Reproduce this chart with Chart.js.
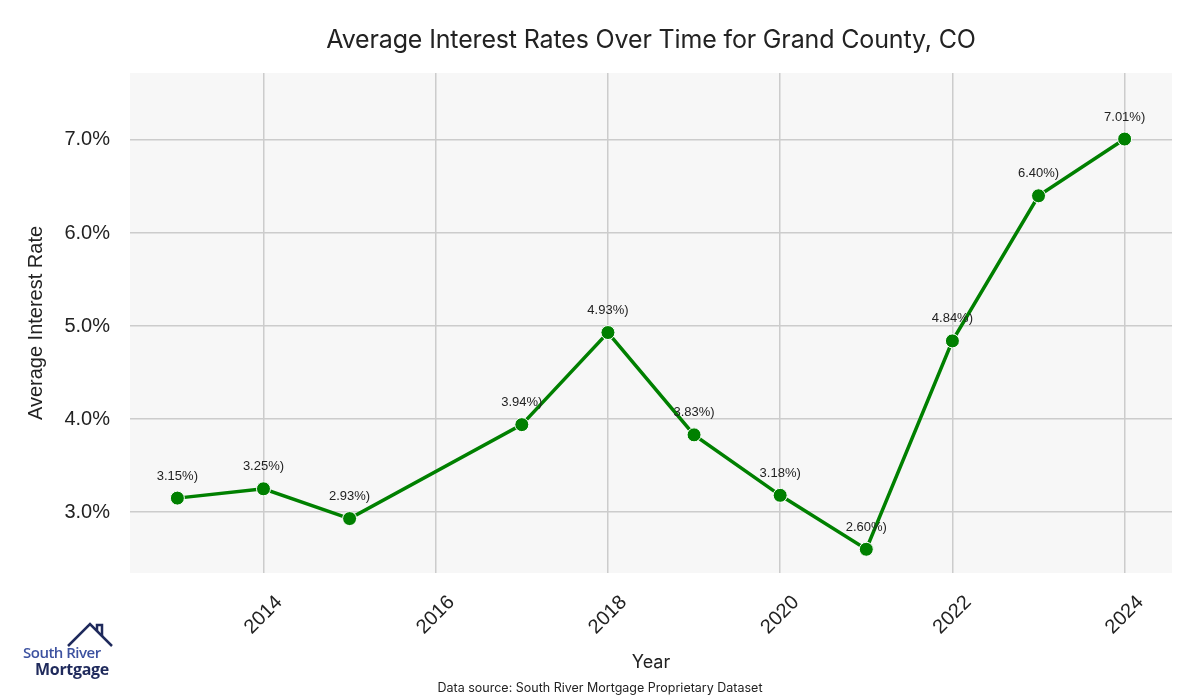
<!DOCTYPE html>
<html>
<head>
<meta charset="utf-8">
<script src="https://cdn.jsdelivr.net/npm/chart.js@4"></script>
<style>
  body { margin: 0; background: #fff; }
  #wrap { position: relative; width: 1200px; height: 700px; }
  #title { position: absolute; top: 24px; left: 130px; width: 1042px; text-align: center;
    font-family: Inter, sans-serif; font-size: 25px; color: #222; letter-spacing: -0.15px; }
  #source { position: absolute; top: 680px; left: 0; width: 1200px; text-align: center;
    font-family: Inter, sans-serif; font-size: 12.5px; color: #222; }
  #logo { position: absolute; left: 22px; top: 620px; width: 100px; height: 60px;
    font-family: "Open Sans", sans-serif; font-weight: 700; }
  #logo .l1 { position: absolute; left: 1px; top: 22px; font-size: 15px; color: #3d52a0; font-weight: 600; letter-spacing: -0.5px; white-space: nowrap; }
  #logo .l2 { position: absolute; left: 13px; top: 38px; font-size: 16px; color: #1f2a5c; letter-spacing: -0.3px; }
  #logo svg { position: absolute; left: 0; top: 0; }
</style>
</head>
<body>
<div id="wrap">
  <canvas id="rateChart" width="1200" height="700"></canvas>
  <div id="title">Average Interest Rates Over Time for Grand County, CO</div>
  <div id="source">Data source: South River Mortgage Proprietary Dataset</div>
  <div id="logo">
    <svg width="100" height="30">
      <polyline points="68,46 90,24 112,46" fill="none" stroke="#1f2a5c" stroke-width="2.5" transform="translate(-22,-20)"/>
      <polyline points="97,31 97,25 102,25 102,36" fill="none" stroke="#1f2a5c" stroke-width="2.5" transform="translate(-22,-20)"/>
    </svg>
    <span class="l1">South River</span>
    <span class="l2">Mortgage</span>
  </div>
</div>
<script>
// Data
const years = [2013, 2014, 2015, 2017, 2018, 2019, 2020, 2021, 2022, 2023, 2024];
const rates = [3.15, 3.25, 2.93, 3.94, 4.93, 3.83, 3.18, 2.60, 4.84, 6.40, 7.01];
const xTicks = [2014, 2016, 2018, 2020, 2022, 2024];
const yTicks = [3, 4, 5, 6, 7];

const chartCanvas = document.getElementById('rateChart');

// Grey plot background, value labels, centred rotated year labels
const plotExtras = {
  id: 'plotExtras',
  beforeDraw(chart) {
    const { ctx, chartArea } = chart;
    ctx.save();
    ctx.fillStyle = '#f7f7f7';
    ctx.fillRect(chartArea.left, chartArea.top, chartArea.width, chartArea.height);
    ctx.restore();
  },
  afterDraw(chart) {
    const { ctx, chartArea } = chart;
    const xScale = chart.scales.x;
    ctx.save();
    ctx.font = '20px "Liberation Sans", Arial, sans-serif';
    ctx.fillStyle = '#222';
    ctx.textAlign = 'center';
    ctx.textBaseline = 'middle';
    xScale.ticks.forEach((t) => {
      const px = xScale.getPixelForValue(t.value);
      ctx.save();
      ctx.translate(px, chartArea.bottom + 42);
      ctx.rotate(-Math.PI / 4);
      ctx.fillText(String(t.value), 0, 0);
      ctx.restore();
    });
    ctx.restore();
  },
  afterDatasetsDraw(chart) {
    const { ctx } = chart;
    const meta = chart.getDatasetMeta(0);
    ctx.save();
    ctx.font = '13px "Liberation Sans", Arial, sans-serif';
    ctx.fillStyle = '#222';
    ctx.textAlign = 'center';
    ctx.textBaseline = 'middle';
    meta.data.forEach((pt, i) => {
      ctx.fillText(rates[i].toFixed(2) + '%)', pt.x, pt.y - 22);
    });
    ctx.restore();
  }
};

new Chart(chartCanvas, {
  type: 'line',
  data: {
    datasets: [{
      data: years.map((y, i) => ({ x: y, y: rates[i] })),
      borderColor: '#008000',
      borderWidth: 3.5,
      backgroundColor: '#008000',
      pointBackgroundColor: '#008000',
      pointBorderColor: '#ffffff',
      pointBorderWidth: 1,
      pointRadius: 7,
      tension: 0
    }]
  },
  options: {
    responsive: false,
    animation: false,
    layout: { padding: { top: 73, right: 28, left: 0, bottom: 0 } },
    plugins: { legend: { display: false }, tooltip: { enabled: false } },
    scales: {
      x: {
        type: 'linear',
        min: 2012.45,
        max: 2024.55,
        afterBuildTicks(scale) { scale.ticks = xTicks.map(v => ({ value: v })); },
        afterFit(scale) { scale.height = 127; },
        border: { display: false },
        grid: { color: '#cccccc', lineWidth: 1.5, drawTicks: false },
        ticks: {
          minRotation: 45, maxRotation: 45, padding: 6,
          color: 'rgba(0,0,0,0)',
          font: { family: '"Liberation Sans", Arial, sans-serif', size: 20 },
          callback: v => String(v)
        },
        title: {
          display: true, text: 'Year', color: '#222',
          font: { family: 'Inter, sans-serif', size: 18 },
          padding: { top: 0, bottom: 27 }
        }
      },
      y: {
        min: 2.345,
        max: 7.72,
        afterBuildTicks(scale) { scale.ticks = yTicks.map(v => ({ value: v })); },
        afterFit(scale) { scale.width = 130; },
        border: { display: false },
        grid: { color: '#cccccc', lineWidth: 1.5, drawTicks: false },
        ticks: {
          padding: 20,
          color: '#222',
          font: { family: '"Liberation Sans", Arial, sans-serif', size: 20 },
          callback: v => v.toFixed(1) + '%'
        },
        title: {
          display: true, text: 'Average Interest Rate', color: '#222',
          font: { family: '"Liberation Sans", Arial, sans-serif', size: 20 },
          padding: { top: 24, bottom: 0 }
        }
      }
    }
  },
  plugins: [plotExtras]
});
</script>
</body>
</html>
